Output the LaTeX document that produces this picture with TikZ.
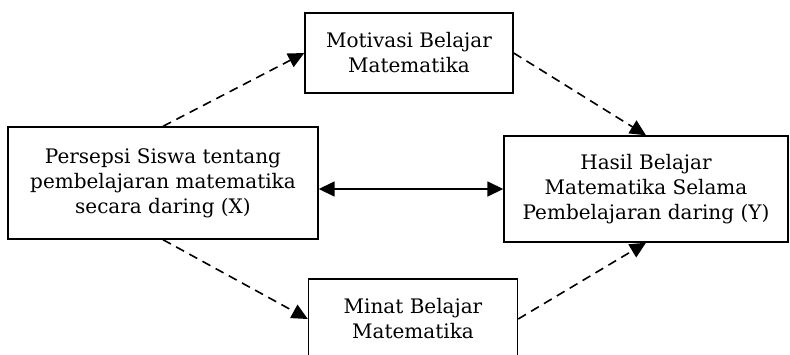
\documentclass[tikz,border=0pt]{standalone}
\usepackage{fontspec}
\setmainfont{DejaVu Serif}
\usetikzlibrary{arrows.meta}

\tikzset{
  kotak/.style={draw=black, line width=1.4pt, align=center, inner sep=0pt, font=\fontsize{20}{25}\selectfont},
  ujung/.style={-{Triangle[length=16pt,width=15pt]}},
  panah/.style={ujung, line width=1.6pt},
  putus/.style={panah, dash pattern=on 9pt off 6pt}
}

\begin{document}
\begin{tikzpicture}[x=1pt,y=-1pt]
\useasboundingbox (0,0) rectangle (790,354);
\node[kotak, minimum width=310pt, minimum height=112pt](X) at (163,183) {Persepsi Siswa tentang\\pembelajaran matematika\\secara daring (X)};
\node[kotak, minimum width=208pt, minimum height=80pt](M) at (409,53) {Motivasi Belajar\\Matematika};
\node[kotak, minimum width=284pt, minimum height=106pt](Y) at (646,189) {Hasil Belajar\\Matematika Selama\\Pembelajaran daring (Y)};
\node[kotak, minimum width=209pt, minimum height=80pt](N) at (413,319) {Minat Belajar\\Matematika};

\path [putus] (X.north) edge (M.west);
\path [putus] (M.east) edge (Y.north);
\path [putus] (X.south) edge (N.west);
\path [putus] (N.east) edge (Y.south);
\draw [line width=1.6pt, {Triangle[length=16pt,width=15pt]}-{Triangle[length=16pt,width=15pt]}] (Y.west) -- (Y.west -| X.east);
\end{tikzpicture}
\end{document}
